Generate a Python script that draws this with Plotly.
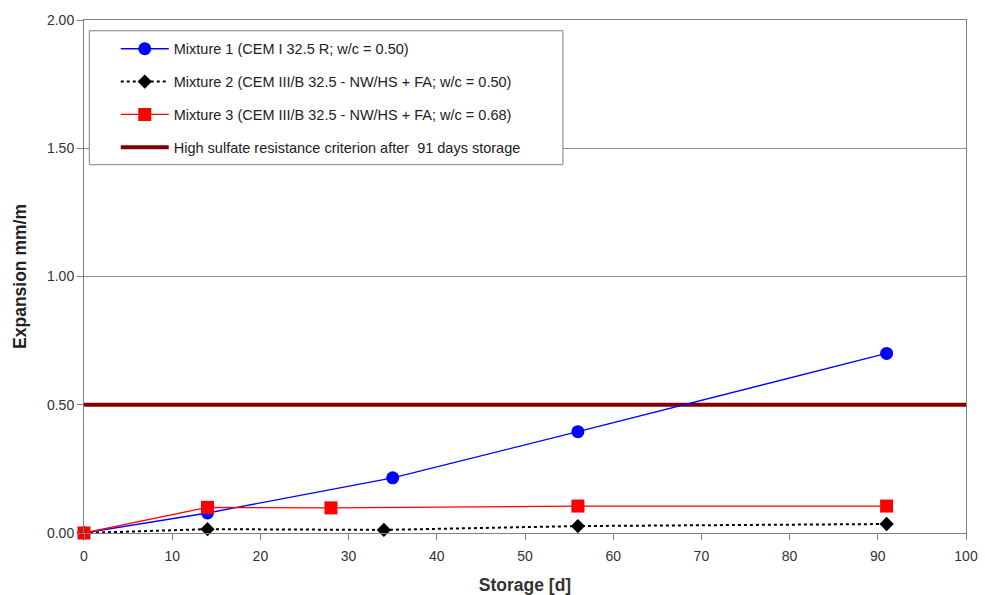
import plotly.graph_objects as go

# Storage time [d] and expansion [mm/m] for each mixture
days_m1 = [0, 14, 35, 56, 91]
exp_m1 = [0.0, 0.078, 0.215, 0.395, 0.70]

days_m2 = [0, 14, 34, 56, 91]
exp_m2 = [0.0, 0.015, 0.012, 0.027, 0.035]

days_m3 = [0, 14, 28, 56, 91]
exp_m3 = [0.0, 0.10, 0.098, 0.105, 0.105]

# Criterion for high sulfate resistance
criterion_x = [0, 100]
criterion_y = [0.50, 0.50]

names = [
    "Mixture 1 (CEM I 32.5 R; w/c = 0.50)",
    "Mixture 2 (CEM III/B 32.5 - NW/HS + FA; w/c = 0.50)",
    "Mixture 3 (CEM III/B 32.5 - NW/HS + FA; w/c = 0.68)",
    "High sulfate resistance criterion after  91 days storage",
]

FONT = "Liberation Sans, Arial, sans-serif"

fig = go.Figure()

fig.add_trace(go.Scatter(
    x=criterion_x, y=criterion_y, mode="lines", name=names[3],
    line=dict(color="#800000", width=4), legendgroup="g4", legendrank=4,
    cliponaxis=False,
))
fig.add_trace(go.Scatter(
    x=days_m1, y=exp_m1, mode="lines+markers", name=names[0],
    line=dict(color="#0000ff", width=1.3),
    marker=dict(symbol="circle", size=13, color="#0000ff"),
    legendgroup="g1", legendrank=1, cliponaxis=False,
))
fig.add_trace(go.Scatter(
    x=days_m2, y=exp_m2, mode="lines+markers", name=names[1],
    line=dict(color="#000000", width=2, dash="3px,3px"),
    marker=dict(symbol="diamond", size=11, color="#000000"),
    legendgroup="g2", legendrank=2, cliponaxis=False,
))
fig.add_trace(go.Scatter(
    x=days_m3, y=exp_m3, mode="lines+markers", name=names[2],
    line=dict(color="#ff0000", width=1.3),
    marker=dict(symbol="square", size=13, color="#ff0000"),
    legendgroup="g3", legendrank=3, cliponaxis=False,
))

axis_common = dict(
    showline=True, linecolor="#808080", linewidth=1, mirror=True,
    ticks="outside", ticklen=6, tickcolor="#808080",
    tickfont=dict(family=FONT, size=14, color="#333333"),
    zeroline=False, automargin=False,
)

fig.update_xaxes(
    range=[0, 100], tickmode="linear", tick0=0, dtick=10, showgrid=False,
    ticklabelstandoff=4,
    title=dict(text="<b>Storage [d]</b>",
               font=dict(family=FONT, size=17.5, color="#333333")),
    **axis_common,
)
fig.update_yaxes(
    range=[0, 2.0], tickmode="linear", tick0=0, dtick=0.5, tickformat=".2f",
    showgrid=True, gridcolor="#909090", gridwidth=1,
    title=dict(text="<b>Expansion mm/m</b>",
               font=dict(family=FONT, size=17.5, color="#222222")),
    **axis_common,
)

# Opaque framed box behind the legend entries
fig.add_shape(
    type="rect", xref="paper", yref="paper",
    x0=0.006, x1=0.543, y0=0.718, y1=0.979,
    fillcolor="white", line=dict(color="#808080", width=1), layer="above",
)

fig.update_layout(
    width=985, height=595,
    margin=dict(l=84, r=19, t=20, b=62),
    paper_bgcolor="white", plot_bgcolor="white",
    font=dict(family=FONT, color="#222222"),
    showlegend=True,
    legend=dict(
        x=0.036, y=0.975, xanchor="left", yanchor="top",
        bgcolor="rgba(0,0,0,0)", borderwidth=0,
        font=dict(family=FONT, size=14.5, color="#222222"),
        tracegroupgap=11, itemwidth=48,
    ),
)

fig.write_html("out.html")
